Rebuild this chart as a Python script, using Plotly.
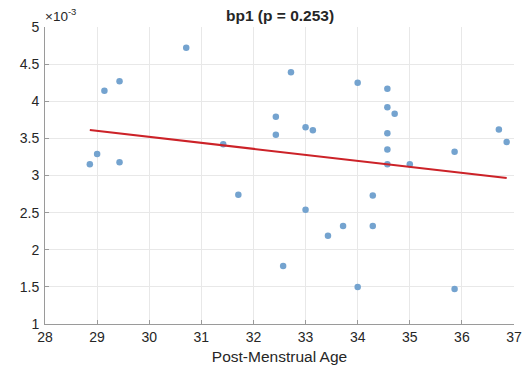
import numpy as np
import plotly.graph_objects as go

# Post-menstrual age (weeks)
pma = [30.71, 29.14, 29.43, 28.86, 29.00, 29.43, 31.42,
       32.72, 34.00, 34.57, 34.57, 34.71, 32.43, 32.43, 33.00, 33.14,
       34.57, 34.57, 34.57, 35.00, 35.86, 36.71, 36.86,
       31.71, 34.29, 33.00, 33.72, 34.29, 33.43, 32.57, 34.00, 35.86]
# bp1 values (x 1e-3)
bp1 = [4.72, 4.14, 4.27, 3.15, 3.29, 3.18, 3.42,
       4.39, 4.25, 4.17, 3.92, 3.83, 3.79, 3.55, 3.65, 3.61,
       3.57, 3.35, 3.15, 3.15, 3.32, 3.62, 3.45,
       2.74, 2.73, 2.54, 2.32, 2.32, 2.19, 1.78, 1.50, 1.47]

title_text = "bp1 (p = 0.253)"
x_label = "Post-Menstrual Age"
x_ticks = [28, 29, 30, 31, 32, 33, 34, 35, 36, 37]
y_ticks = [1, 1.5, 2, 2.5, 3, 3.5, 4, 4.5, 5]

x = np.array(pma)
y = np.array(bp1)
slope, intercept = np.polyfit(x, y, 1)
xfit = np.array([x.min(), x.max()])
yfit = slope * xfit + intercept

font_family = "Liberation Sans, Arial, Helvetica, sans-serif"
txt = "#262626"

fig = go.Figure()
fig.add_trace(go.Scatter(x=pma, y=bp1, mode="markers",
                         marker=dict(color="#74a3cf", size=6.5, line=dict(width=0)),
                         showlegend=False))
fig.add_trace(go.Scatter(x=xfit, y=yfit, mode="lines",
                         line=dict(color="#cc2228", width=2),
                         showlegend=False))

axis_common = dict(showgrid=True, gridcolor="#e8e8e8", gridwidth=1,
                   zeroline=False, showline=True, linecolor="#9a9a9a", linewidth=1,
                   ticks="inside", ticklen=4, tickcolor="#9a9a9a", automargin=False,
                   tickfont=dict(family=font_family, size=14, color=txt))

fig.update_xaxes(range=[28, 37], tickvals=x_ticks, ticktext=[str(t) for t in x_ticks],
                 ticklabelstandoff=0,
                 title=dict(text=x_label, font=dict(family=font_family, size=15.5, color=txt),
                            standoff=7),
                 **axis_common)
fig.update_yaxes(range=[1, 5], tickvals=y_ticks, ticktext=[f"{t:g}" for t in y_ticks],
                 ticklabelstandoff=2,
                 **axis_common)

fig.update_layout(
    width=526, height=367,
    margin=dict(l=45, r=12, t=27, b=43),
    paper_bgcolor="white", plot_bgcolor="white",
    font=dict(family=font_family, color=txt),
    annotations=[
        dict(text="<b>" + title_text + "</b>", x=0.5, y=1, xref="paper", yref="paper",
             xanchor="center", yanchor="bottom", yshift=1, showarrow=False,
             font=dict(family=font_family, size=15.5, color=txt)),
        dict(text="×10<sup>-3</sup>", x=0, y=1, xref="paper", yref="paper",
             xanchor="left", yanchor="bottom", xshift=-2, yshift=1, showarrow=False,
             font=dict(family=font_family, size=13.5, color=txt)),
    ],
)

fig.write_html("out.html")
